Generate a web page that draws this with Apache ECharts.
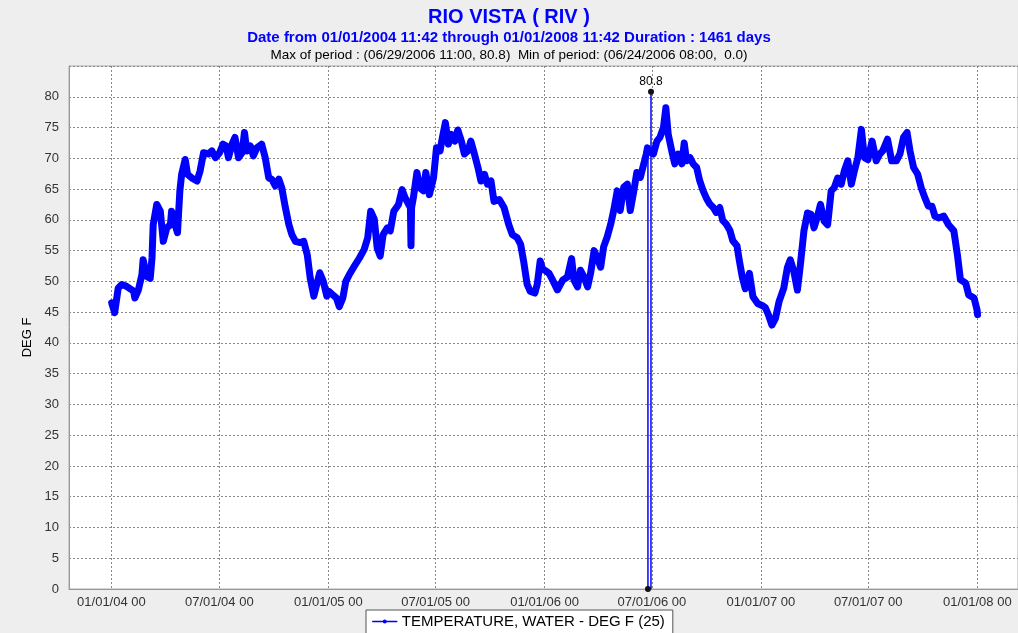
<!DOCTYPE html>
<html><head><meta charset="utf-8">
<script src="https://cdn.jsdelivr.net/npm/echarts@6/dist/echarts.min.js"></script>
<style>html,body{margin:0;padding:0;background:#eeeeee;} #c{width:1018px;height:633px;}</style>
</head><body><div id="c"></div>
<script>
// ---- data ----
const dates = [
'2004-01-01','2004-01-06','2004-01-12','2004-01-18','2004-01-26','2004-02-07','2004-02-09','2004-02-15','2004-02-21','2004-02-23',
'2004-02-29','2004-03-06','2004-03-09','2004-03-11','2004-03-17','2004-03-23','2004-03-28','2004-04-03','2004-04-09','2004-04-11',
'2004-04-17','2004-04-21','2004-04-25','2004-04-28','2004-05-04','2004-05-08','2004-05-15','2004-05-24','2004-05-29','2004-06-04',
'2004-06-12','2004-06-18','2004-06-24','2004-07-01','2004-07-07','2004-07-12','2004-07-16','2004-07-22','2004-07-27','2004-08-02',
'2004-08-08','2004-08-12','2004-08-16','2004-08-22','2004-08-27','2004-09-02','2004-09-10','2004-09-16','2004-09-22','2004-09-27',
'2004-10-03','2004-10-09','2004-10-14','2004-10-20','2004-10-26','2004-10-31','2004-11-06','2004-11-14','2004-11-20','2004-11-26',
'2004-12-01','2004-12-07','2004-12-12','2004-12-17','2004-12-23','2004-12-29',
'2005-01-01','2005-01-08','2005-01-14','2005-01-19','2005-01-25','2005-01-30','2005-02-05','2005-02-13','2005-02-22','2005-03-02',
'2005-03-08','2005-03-13','2005-03-19','2005-03-24','2005-03-29','2005-04-03','2005-04-10','2005-04-15','2005-04-21','2005-04-29',
'2005-05-05','2005-05-10','2005-05-16','2005-05-19','2005-05-20','2005-05-21','2005-05-24','2005-05-30','2005-06-04','2005-06-10',
'2005-06-14','2005-06-20','2005-06-27','2005-07-02','2005-07-08','2005-07-12','2005-07-17','2005-07-22','2005-07-27','2005-08-02',
'2005-08-07','2005-08-13','2005-08-18','2005-08-24','2005-08-29','2005-09-04','2005-09-10','2005-09-15','2005-09-21','2005-09-26',
'2005-10-02','2005-10-07','2005-10-16','2005-10-24','2005-11-01','2005-11-07','2005-11-15','2005-11-21','2005-11-26','2005-12-02',
'2005-12-07','2005-12-15','2005-12-19','2005-12-24','2005-12-28',
'2006-01-01','2006-01-08','2006-01-14','2006-01-22','2006-01-31','2006-02-08','2006-02-15','2006-02-19','2006-02-25','2006-03-02',
'2006-03-08','2006-03-14','2006-03-19','2006-03-25','2006-03-30','2006-04-05','2006-04-10','2006-04-16','2006-04-22','2006-04-27',
'2006-05-03','2006-05-08','2006-05-14','2006-05-20','2006-05-25','2006-05-31','2006-06-05','2006-06-11','2006-06-16','2006-06-21',
'2006-06-23','2006-06-28','2006-07-03','2006-07-09','2006-07-14','2006-07-20','2006-07-24','2006-07-28','2006-08-03','2006-08-08',
'2006-08-14','2006-08-20','2006-08-24','2006-08-28','2006-09-03','2006-09-08','2006-09-14','2006-09-19','2006-09-25','2006-10-01',
'2006-10-06','2006-10-12','2006-10-17','2006-10-23','2006-10-28','2006-11-03','2006-11-09','2006-11-14','2006-11-21','2006-11-25',
'2006-11-30','2006-12-05','2006-12-12','2006-12-18','2006-12-26',
'2007-01-04','2007-01-08','2007-01-13','2007-01-19','2007-01-25','2007-01-31','2007-02-08','2007-02-14','2007-02-19','2007-02-25',
'2007-03-03','2007-03-08','2007-03-14','2007-03-20','2007-03-26','2007-03-31','2007-04-06','2007-04-11','2007-04-17','2007-04-23',
'2007-04-29','2007-05-04','2007-05-10','2007-05-16','2007-05-21','2007-05-27','2007-06-02','2007-06-07','2007-06-13','2007-06-19',
'2007-06-24','2007-06-30','2007-07-07','2007-07-14','2007-07-20','2007-07-25','2007-08-02','2007-08-09','2007-08-17','2007-08-23',
'2007-08-29','2007-09-04','2007-09-09','2007-09-15','2007-09-22','2007-09-28','2007-10-04','2007-10-10','2007-10-16','2007-10-21',
'2007-10-27','2007-11-05','2007-11-13','2007-11-22','2007-11-28','2007-12-03','2007-12-12','2007-12-17','2007-12-26','2007-12-31',
'2008-01-01'
];
const temps = [
46.5,44.9,48.9,49.5,49.2,48.4,47.3,48.6,51.1,53.5,
50.8,50.5,53.8,59.2,62.5,61.4,56.5,58.7,59.2,61.4,
59.2,57.9,64.7,67.4,69.8,67.4,66.8,66.3,67.9,70.9,
70.7,71.2,70.1,70.9,72.3,72.0,70.1,72.3,73.4,70.1,
70.9,74.2,71.2,72.0,70.4,71.7,72.3,70.1,66.8,66.6,
65.5,66.6,65.2,62.0,59.2,57.6,56.5,56.3,56.5,54.3,
50.5,47.6,49.5,51.4,50.0,47.6,
48.4,47.8,47.3,45.9,47.3,50.0,51.1,52.4,53.8,55.2,
57.1,61.4,60.1,55.4,54.1,57.6,58.7,58.2,61.4,62.5,
64.9,63.6,62.5,62.0,55.8,62.0,63.6,67.7,65.2,64.7,
67.7,64.1,66.8,71.7,71.2,73.4,75.8,72.3,73.9,72.8,
74.6,72.8,70.7,71.2,72.8,70.7,68.5,66.3,67.4,65.8,
66.3,63.0,63.3,62.0,59.2,57.6,57.1,56.0,53.3,49.5,
48.4,48.1,49.5,53.3,52.0,
51.8,51.3,50.2,48.6,50.2,50.7,53.7,50.2,49.1,51.8,
50.7,49.1,51.3,55.0,53.9,52.3,55.6,57.2,59.3,61.5,
64.7,61.5,65.3,65.8,61.5,64.7,67.7,66.9,68.8,70.7,
71.7,71.0,70.7,72.8,73.4,75.0,78.2,73.9,71.2,69.1,
70.7,69.1,72.5,69.6,70.1,69.1,68.5,66.4,64.7,63.4,
62.6,62.0,61.2,62.0,59.9,59.3,58.3,56.6,55.8,53.4,
50.7,48.8,51.3,47.5,46.4,
46.0,45.7,44.6,42.9,44.0,46.7,48.9,52.2,53.5,51.6,
48.6,52.7,58.2,61.1,60.9,58.7,60.6,62.5,59.8,59.2,
64.7,65.2,66.8,65.8,67.9,69.6,65.8,67.9,70.1,74.7,
70.1,69.8,72.8,69.6,70.7,71.2,73.1,69.6,69.6,70.7,
73.4,74.2,71.2,68.5,67.4,65.2,63.6,62.2,62.2,60.6,
60.3,60.6,59.2,58.2,54.3,50.3,49.7,47.8,47.3,45.4,
44.6
];
// spike around the min/max of the period
const spikeDates = ['2006-06-24T07:00','2006-06-24T08:00','2006-06-29T10:00','2006-06-29T11:00','2006-06-29T12:00'];
const spikeTemps = [71.0, 0.0, 0.0, 80.8, 71.0];
const maxPoint = ['2006-06-29T11:00', 80.8];
const minPoint = ['2006-06-24T08:00', 0.0];
const xTickDates = ['2004-01-01T00:00','2004-07-01T00:00','2005-01-01T00:00','2005-07-01T00:00','2006-01-01T00:00',
                    '2006-07-01T00:00','2007-01-01T00:00','2007-07-01T00:00','2008-01-01T00:00'];
const xRange = ['2003-10-21T10:30','2008-03-09T17:00'];
const yMin = 0, yMax = 85, yStep = 5;
const seriesName = 'TEMPERATURE, WATER - DEG F (25)';
const titleText = 'RIO VISTA ( RIV )';
const subText = 'Date from 01/01/2004 11:42 through 01/01/2008 11:42 Duration : 1461 days';
const periodText = 'Max of period : (06/29/2006 11:00, 80.8)  Min of period: (06/24/2006 08:00,  0.0)';
const yName = 'DEG F';

// ---- helpers ----
function toTs(s) {
  const parts = s.split('T');
  const [Y, M, D] = parts[0].split('-').map(Number);
  let h = 12, mi = 0;
  if (parts[1]) { const t = parts[1].split(':').map(Number); h = t[0]; mi = t[1]; }
  return Date.UTC(Y, M - 1, D, h, mi);
}
const pad2 = n => (n < 10 ? '0' : '') + n;
function fmtTick(v) {
  const d = new Date(v);
  return pad2(d.getUTCMonth() + 1) + '/' + pad2(d.getUTCDate()) + '/' + pad2(d.getUTCFullYear() % 100) + ' 00';
}
const mainData = dates.map((d, i) => [toTs(d), temps[i]]);
const spikeData = spikeDates.map((d, i) => [toTs(d), spikeTemps[i]]);
const xTicks = xTickDates.map(toTs);

const FONT = 'Liberation Sans, Arial, sans-serif';
const chart = echarts.init(document.getElementById('c'));
chart.setOption({
  backgroundColor: '#eeeeee',
  animation: false,
  title: [
    { text: titleText, left: 'center', top: 2, textStyle: { color: '#0000ff', fontSize: 20, fontWeight: 'bold', fontFamily: FONT } },
    { text: subText, left: 'center', top: 25, textStyle: { color: '#0000ff', fontSize: 15, fontWeight: 'bold', fontFamily: FONT } },
    { text: periodText, left: 'center', top: 43, textStyle: { color: '#000', fontSize: 13.5, fontWeight: 'normal', fontFamily: FONT } }
  ],
  legend: {
    data: [{ name: seriesName }],
    left: 366, top: 610,
    backgroundColor: '#fff', borderColor: '#555', borderWidth: 1,
    padding: [4, 8, 8, 6],
    itemWidth: 24, itemHeight: 5,
    lineStyle: { width: 1.5 },
    textStyle: { color: '#000', fontSize: 15, fontFamily: FONT }
  },
  grid: { left: 69, right: 0, top: 66, bottom: 44, show: true, backgroundColor: '#fff', borderColor: '#aaa', borderWidth: 1 },
  xAxis: {
    type: 'value',
    min: toTs(xRange[0]), max: toTs(xRange[1]),
    axisLine: { show: true, lineStyle: { color: '#999' } },
    axisTick: { show: false, customValues: xTicks },
    axisLabel: { customValues: xTicks, formatter: fmtTick, color: '#333', fontSize: 13, fontFamily: FONT, margin: 7 },
    splitLine: { show: true, lineStyle: { color: '#888', type: [2, 2], width: 1 } }
  },
  yAxis: {
    type: 'value', min: yMin, max: yMax, interval: yStep,
    name: yName, nameLocation: 'middle', nameRotate: 90, nameGap: 30,
    nameTextStyle: { color: '#000', fontSize: 13, fontFamily: FONT, padding: [0, 20, 0, 0] },
    axisLine: { show: true, lineStyle: { color: '#999' } },
    axisTick: { show: false },
    axisLabel: { color: '#333', fontSize: 13, fontFamily: FONT, margin: 10, showMaxLabel: false },
    splitLine: { show: true, lineStyle: { color: '#888', type: [2, 2], width: 1 } }
  },
  series: [
    {
      name: seriesName, type: 'line', data: mainData,
      symbol: 'circle', symbolSize: 4, showSymbol: false,
      lineStyle: { color: '#0000ff', width: 7, join: 'round', cap: 'round' },
      itemStyle: { color: '#0000ff' }
    },
    {
      name: seriesName, type: 'line', data: spikeData,
      symbol: 'none', showSymbol: false,
      lineStyle: { color: '#0000ff', width: 1.5 },
      itemStyle: { color: '#0000ff' },
      markPoint: {
        symbol: 'circle', symbolSize: 6,
        itemStyle: { color: '#111' },
        data: [
          { coord: [toTs(maxPoint[0]), maxPoint[1]], value: maxPoint[1],
            label: { show: true, position: 'top', distance: 1, formatter: '{c}', color: '#000', fontSize: 12, fontFamily: FONT } },
          { coord: [toTs(minPoint[0]), minPoint[1]], value: minPoint[1], label: { show: false } }
        ]
      }
    }
  ]
});
</script>
</body></html>
